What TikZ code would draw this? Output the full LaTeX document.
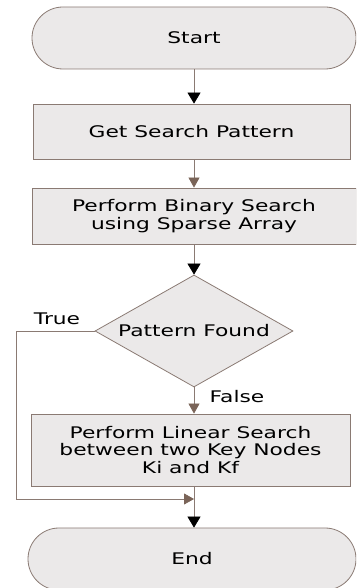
\documentclass[tikz,border=0pt]{standalone}
\usepackage{fontspec}
\newfontfamily\flowfont[FakeStretch=1.36]{DejaVu Sans}
\usetikzlibrary{arrows.meta,shapes.geometric}
\definecolor{boxc}{HTML}{EBE9E9}
\definecolor{edgec}{HTML}{8A7A73}
\definecolor{headc}{HTML}{7A6458}
\tikzset{
  flowtext/.style={font={\flowfont\fontsize{16}{17.5}\selectfont}},
  box/.style={draw=edgec,fill=boxc,line width=0.8pt,align=center,flowtext,inner sep=2pt},
  term/.style={box,rounded corners=31pt,minimum height=62pt},
  proc/.style={box},
  decide/.style={box,diamond,aspect=1.77,minimum width=198pt,minimum height=112pt,inner sep=0pt},
  link/.style={draw=edgec,line width=0.8pt},
  blk/.style={link,-{Triangle[width=13pt,length=11pt,color=black]}},
  brn/.style={link,-{Triangle[width=11pt,length=10pt,color=headc]}},
  lbl/.style={flowtext}
}
\begin{document}
\begin{tikzpicture}[x=1pt,y=1pt]
  \useasboundingbox (0,0) rectangle (356,588);
  \clip (0,0) rectangle (356,588);
  \node[term,minimum width=324pt] (start) at (194,550) {Start};
  \node[proc,minimum width=317pt,minimum height=55pt] (get) at (191.5,456.5) {Get Search Pattern};
  \node[proc,minimum width=324pt,minimum height=56pt] (bin) at (194,372) {Perform Binary Search\\using Sparse Array};
  \node[decide] (found) at (194,257) {Pattern Found};
  \node[proc,minimum width=319pt,minimum height=72pt] (lin) at (190.5,138) {Perform Linear Search\\between two Key Nodes\\Ki and Kf};
  \node[term,minimum width=328pt] (stop) at (192,29) {End};
  \coordinate (bend) at (16,257);
  \coordinate (join) at (194,89);
  \node[lbl] (truelbl) at (57,269) {True};
  \node[lbl] (falselbl) at (237,191) {False};
  \draw[blk] (start) -- (start |- get.north);
  \draw[brn] (found |- get.south) -- (found |- bin.north);
  \draw[blk] (found |- bin.south) -- (found.north);
  \draw[brn] (found.south) -- (found |- lin.north);
  \draw[link] (found |- lin.south) -- (join);
  \draw[blk] (join) -- (join |- stop.north);
  \draw[brn] (found.west) -- (bend) |- (join);
\end{tikzpicture}
\end{document}
